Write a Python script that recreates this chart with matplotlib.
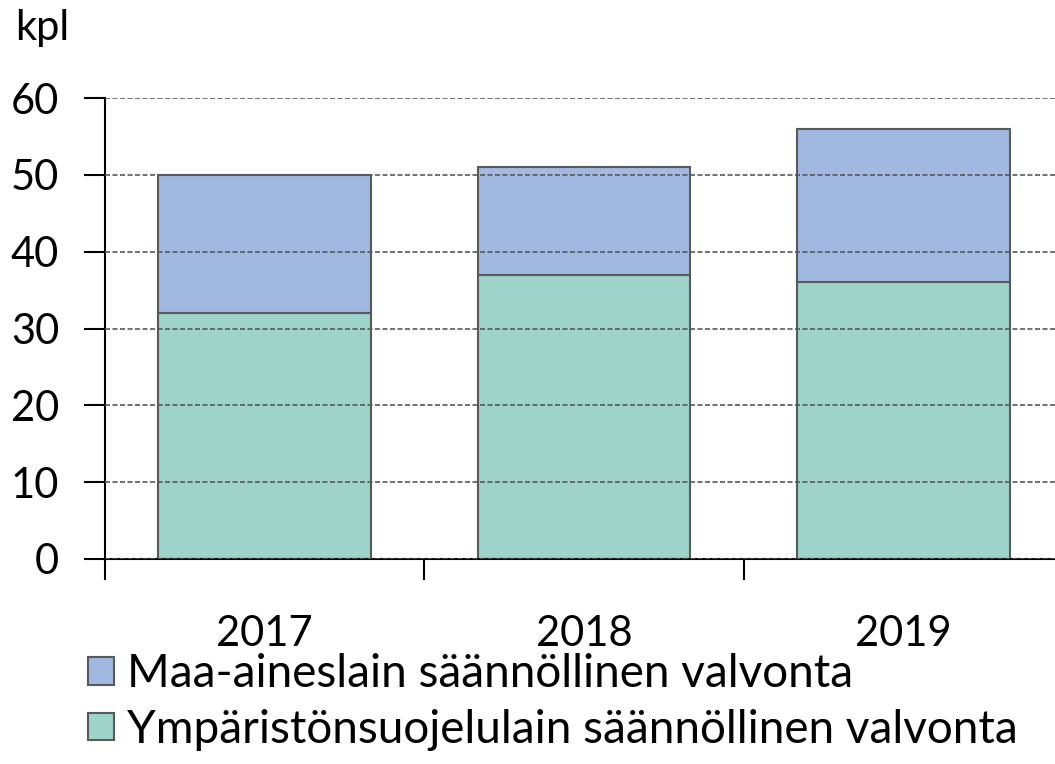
import matplotlib
matplotlib.use("Agg")
import matplotlib.pyplot as plt
import numpy as np

years = ["2017", "2018", "2019"]
ysl = [32, 37, 36]        # Ympäristönsuojelulain säännöllinen valvonta
mal = [18, 14, 20]        # Maa-aineslain säännöllinen valvonta

plt.rcParams['font.family'] = ['Lato', 'DejaVu Sans']

fig = plt.figure(figsize=(10.55, 7.64), dpi=100)
ax = fig.add_axes([105 / 1055, (764 - 559) / 764, 958 / 1055, 461 / 764])

x = np.arange(len(years))
edge = '#595959'
b1 = ax.bar(x, ysl, width=0.667, color='#9DD3C9', edgecolor=edge, linewidth=1.5, zorder=2)
b2 = ax.bar(x, mal, bottom=ysl, width=0.667, color='#A1B8E0', edgecolor=edge, linewidth=1.5, zorder=2)

ax.set_xlim(-0.5, 2.5)
ax.set_ylim(0, 60)
ax.set_yticks(range(0, 61, 10))
ax.yaxis.grid(True, linestyle=(0, (3, 1.5)), color='#595959', linewidth=1.2, zorder=3)
ax.set_axisbelow(False)

# group boundaries get the tick marks, labels sit between them
ax.set_xticks([-0.5, 0.5, 1.5, 2.5], minor=False)
ax.set_xticklabels([])
ax.set_xticks(x, minor=True)
ax.set_xticklabels(years, minor=True)
ax.tick_params(axis='x', which='minor', length=0, labelsize=30, pad=40)
ax.tick_params(axis='x', which='major', length=15, width=1.5, direction='out')
ax.tick_params(axis='y', length=15, width=1.5, labelsize=30, pad=18)

for s in ['top', 'right']:
    ax.spines[s].set_visible(False)
ax.spines['left'].set_linewidth(1.5)
ax.spines['bottom'].set_linewidth(1.5)

fig.text(15 / 1055, 1 - 28 / 764, "kpl", fontsize=30, va='center', ha='left')

fig.legend([b2, b1],
           ["Maa-aineslain säännöllinen valvonta",
            "Ympäristönsuojelulain säännöllinen valvonta"],
           loc='center left', bbox_to_anchor=(70 / 1055, 1 - 702 / 764),
           frameon=False, fontsize=33, handlelength=0.55, handleheight=0.55,
           handletextpad=0.3, labelspacing=0.3, borderaxespad=0.0)

fig.savefig("out.png", dpi=100)
